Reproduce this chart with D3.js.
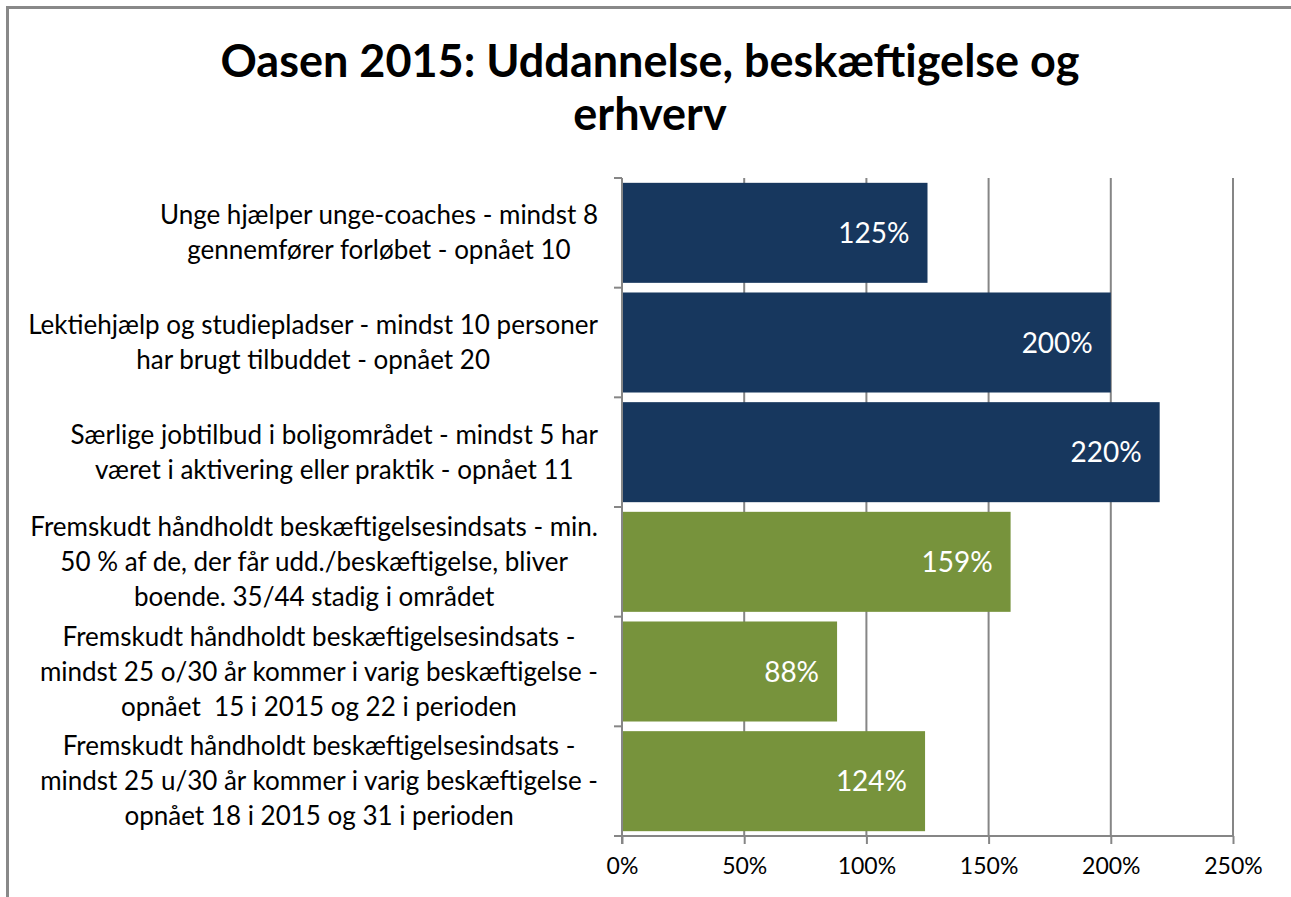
<!DOCTYPE html>
<html>
<head>
<meta charset="utf-8">
<script src="https://cdn.jsdelivr.net/npm/d3@7"></script>
<style>
  body { margin: 0; background: #fff; }
  svg { display: block; }
  text { font-family: Lato, "Open Sans", sans-serif; }
</style>
</head>
<body>
<div id="chart"></div>
<script>
    const titleLines = ['Oasen 2015: Uddannelse, beskæftigelse og', 'erhverv'];

    const categories = [
        ['Unge hjælper unge-coaches - mindst 8', 'gennemfører forløbet - opnået 10'],
        ['Lektiehjælp og studiepladser - mindst 10 personer', 'har brugt tilbuddet - opnået 20'],
        ['Særlige jobtilbud i boligområdet - mindst 5 har', 'været i aktivering eller praktik - opnået 11'],
        ['Fremskudt håndholdt beskæftigelsesindsats - min.', '50 % af de, der får udd./beskæftigelse, bliver', 'boende. 35/44 stadig i området'],
        ['Fremskudt håndholdt beskæftigelsesindsats -', 'mindst 25 o/30 år kommer i varig beskæftigelse -', 'opnået  15 i 2015 og 22 i perioden'],
        ['Fremskudt håndholdt beskæftigelsesindsats -', 'mindst 25 u/30 år kommer i varig beskæftigelse -', 'opnået 18 i 2015 og 31 i perioden']
    ];
    const values = [125, 200, 220, 159, 88, 124];
    const groups = ['blue', 'blue', 'blue', 'green', 'green', 'green'];
    const xTicks = [0, 50, 100, 150, 200, 250];

    const w = 1291;
    const h = 897;
    const plot = {left: 622, right: 1233, top: 178, bottom: 836};
    const colors = {blue: '#17375e', green: '#77933c'};
    const axisGrey = '#868686';

    const svg = d3.select('#chart')
        .append('svg')
        .attr('width', w)
        .attr('height', h);

    // outer frame (continues past the right and bottom edges)
    svg.append('rect')
        .attr('x', 7.5)
        .attr('y', 7.5)
        .attr('width', w + 20)
        .attr('height', h + 20)
        .attr('fill', 'none')
        .attr('stroke', '#898989')
        .attr('stroke-width', 3);

    const xScale = d3.scaleLinear()
        .domain([0, 250])
        .range([plot.left, plot.right]);

    const yScale = d3.scaleBand()
        .domain(d3.range(categories.length))
        .range([plot.top, plot.bottom])
        .paddingInner(0.088)
        .paddingOuter(0.044);

    // gridlines
    svg.append('g')
        .selectAll('line')
        .data(xTicks.slice(1))
        .enter()
        .append('line')
        .attr('x1', (d) => xScale(d))
        .attr('x2', (d) => xScale(d))
        .attr('y1', plot.top)
        .attr('y2', plot.bottom)
        .attr('stroke', axisGrey)
        .attr('stroke-width', 2);

    // bars
    svg.append('g')
        .selectAll('rect')
        .data(values)
        .enter()
        .append('rect')
        .attr('x', xScale(0))
        .attr('y', (d, i) => yScale(i))
        .attr('width', (d) => xScale(d) - xScale(0))
        .attr('height', yScale.bandwidth())
        .attr('fill', (d, i) => colors[groups[i]]);

    // value labels
    svg.append('g')
        .selectAll('text')
        .data(values)
        .enter()
        .append('text')
        .attr('x', (d) => xScale(d) - 18)
        .attr('y', (d, i) => yScale(i) + yScale.bandwidth() / 2 + 10)
        .attr('text-anchor', 'end')
        .attr('fill', '#fff')
        .style('font-size', '28px')
        .text((d) => d + '%');

    // x axis
    const xAxis = d3.axisBottom(xScale)
        .tickValues(xTicks)
        .tickSize(8)
        .tickPadding(14)
        .tickFormat((d) => d + '%');

    const gx = svg.append('g')
        .attr('transform', 'translate(0,' + plot.bottom + ')')
        .call(xAxis);
    gx.select('.domain').attr('stroke', axisGrey).attr('stroke-width', 2)
        .attr('d', 'M' + (plot.left - 8) + ',0H' + plot.right);
    gx.selectAll('.tick line').attr('stroke', axisGrey).attr('stroke-width', 2);
    gx.selectAll('.tick text')
        .attr('fill', '#000')
        .style('font-size', '23px')
        .style('font-family', 'Lato, sans-serif');

    // y axis: ticks at band boundaries
    const yEdges = d3.range(categories.length + 1)
        .map((i) => plot.top + i * yScale.step());
    const gy = svg.append('g');
    gy.append('line')
        .attr('x1', plot.left).attr('x2', plot.left)
        .attr('y1', plot.top).attr('y2', plot.bottom + 8)
        .attr('stroke', axisGrey).attr('stroke-width', 2);
    gy.selectAll('.ytick')
        .data(yEdges)
        .enter()
        .append('line')
        .attr('class', 'ytick')
        .attr('x1', plot.left - 8).attr('x2', plot.left)
        .attr('y1', (d) => d).attr('y2', (d) => d)
        .attr('stroke', axisGrey).attr('stroke-width', 2);

    // category labels: block right-aligned, lines centred within the block
    const lineH = 35;
    const labelRight = 598;
    categories.forEach(function (lines, i) {
        const g = svg.append('g');
        const cy = yScale(i) + yScale.bandwidth() / 2;
        const texts = lines.map(function (line, j) {
            return g.append('text')
                .attr('y', cy + (j - (lines.length - 1) / 2) * lineH + 9)
                .attr('text-anchor', 'middle')
                .attr('fill', '#000')
                .style('font-size', '26px')
                .style('white-space', 'pre')
                .text(line);
        });
        const maxW = d3.max(texts, (t) => t.node().getComputedTextLength());
        texts.forEach((t) => t.attr('x', labelRight - maxW / 2));
    });

    // title
    svg.append('text')
        .attr('x', 650)
        .attr('text-anchor', 'middle')
        .style('font-size', '45px')
        .style('font-weight', 'bold')
        .selectAll('tspan')
        .data(titleLines)
        .enter()
        .append('tspan')
        .attr('x', 650)
        .attr('y', (d, i) => 77 + i * 53)
        .text((d) => d);
</script>
</body>
</html>
